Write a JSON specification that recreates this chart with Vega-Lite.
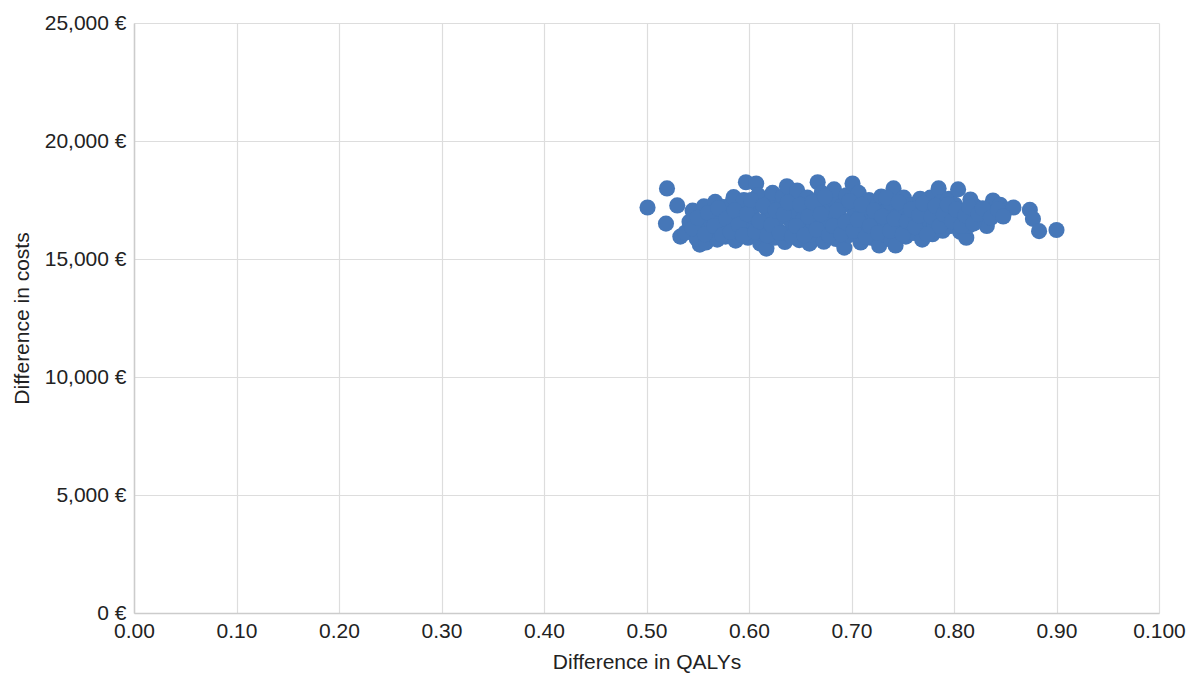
{
  "$schema": "https://vega.github.io/schema/vega-lite/v6.json",
  "width": 1025,
  "height": 590,
  "autosize": "none",
  "padding": {"left": 134, "top": 23, "right": 31, "bottom": 60},
  "background": "white",
  "config": {
    "view": {"stroke": null},
    "font": "Liberation Sans",
    "axis": {
      "labelFont": "Liberation Sans",
      "titleFont": "Liberation Sans",
      "labelColor": "#222222",
      "titleColor": "#222222",
      "labelFontSize": 21,
      "titleFontSize": 21,
      "titleFontWeight": "normal",
      "gridColor": "#dddddd",
      "gridWidth": 1.2,
      "domainColor": "#cccccc",
      "domainWidth": 1.5,
      "ticks": false
    }
  },
  "data": {
    "values": [
      {"q":0.501,"c":17180},{"q":0.520,"c":17990},{"q":0.519,"c":16500},{"q":0.530,"c":17270},{"q":0.533,"c":15950},{"q":0.552,"c":15610},
      {"q":0.538,"c":16120},{"q":0.542,"c":16580},{"q":0.545,"c":17050},{"q":0.549,"c":15870},{"q":0.551,"c":16350},{"q":0.553,"c":16820},{"q":0.556,"c":17230},{"q":0.558,"c":15700},
      {"q":0.561,"c":16100},{"q":0.563,"c":16560},{"q":0.565,"c":17020},{"q":0.567,"c":17420},{"q":0.569,"c":15820},{"q":0.571,"c":16300},{"q":0.573,"c":16780},{"q":0.575,"c":17200},
      {"q":0.577,"c":15950},{"q":0.579,"c":16450},{"q":0.581,"c":16900},{"q":0.583,"c":17350},{"q":0.585,"c":17620},{"q":0.587,"c":15780},{"q":0.589,"c":16200},{"q":0.591,"c":16680},
      {"q":0.593,"c":17100},{"q":0.595,"c":17500},{"q":0.597,"c":18250},{"q":0.599,"c":15900},{"q":0.601,"c":16350},{"q":0.603,"c":16820},{"q":0.605,"c":17280},{"q":0.607,"c":18200},{"q":0.609,"c":17700},
      {"q":0.611,"c":15650},{"q":0.613,"c":16080},{"q":0.615,"c":16550},{"q":0.617,"c":15440},{"q":0.619,"c":17000},{"q":0.621,"c":17450},{"q":0.623,"c":17800},{"q":0.625,"c":15900},{"q":0.627,"c":16300},{"q":0.629,"c":16750},
      {"q":0.631,"c":17200},{"q":0.633,"c":17650},{"q":0.635,"c":15720},{"q":0.637,"c":18080},{"q":0.639,"c":16150},{"q":0.641,"c":16600},{"q":0.643,"c":17050},{"q":0.645,"c":17500},{"q":0.647,"c":17900},
      {"q":0.649,"c":15800},{"q":0.651,"c":16250},{"q":0.653,"c":16700},{"q":0.655,"c":17150},{"q":0.657,"c":17600},{"q":0.659,"c":15650},{"q":0.661,"c":16050},{"q":0.663,"c":16500},{"q":0.665,"c":16950},{"q":0.667,"c":18250},
      {"q":0.669,"c":17400},{"q":0.671,"c":17800},{"q":0.673,"c":15730},{"q":0.675,"c":16200},{"q":0.677,"c":16650},{"q":0.679,"c":17100},{"q":0.681,"c":17550},{"q":0.683,"c":17950},{"q":0.685,"c":15850},
      {"q":0.687,"c":16300},{"q":0.689,"c":16750},{"q":0.691,"c":17250},{"q":0.693,"c":15480},{"q":0.695,"c":17700},{"q":0.697,"c":16000},{"q":0.699,"c":16450},{"q":0.701,"c":18200},{"q":0.703,"c":16900},{"q":0.705,"c":17350},
      {"q":0.707,"c":17800},{"q":0.709,"c":15700},{"q":0.711,"c":16150},{"q":0.713,"c":16600},{"q":0.715,"c":17050},{"q":0.717,"c":17500},{"q":0.719,"c":15900},{"q":0.721,"c":16350},{"q":0.723,"c":16800},{"q":0.725,"c":17250},
      {"q":0.727,"c":15570},{"q":0.729,"c":17650},{"q":0.731,"c":16050},{"q":0.733,"c":16500},{"q":0.735,"c":16950},{"q":0.737,"c":17400},{"q":0.739,"c":15800},{"q":0.741,"c":17990},{"q":0.743,"c":15570},{"q":0.745,"c":16250},
      {"q":0.747,"c":16700},{"q":0.749,"c":17150},{"q":0.751,"c":17600},{"q":0.753,"c":15950},{"q":0.755,"c":16400},{"q":0.757,"c":16850},{"q":0.759,"c":17300},{"q":0.761,"c":16100},{"q":0.763,"c":16600},{"q":0.765,"c":17050},
      {"q":0.767,"c":17550},{"q":0.769,"c":15820},{"q":0.771,"c":16300},{"q":0.773,"c":16750},{"q":0.775,"c":17200},{"q":0.777,"c":17600},{"q":0.779,"c":16050},{"q":0.781,"c":16500},{"q":0.783,"c":16950},{"q":0.785,"c":17990},
      {"q":0.787,"c":17400},{"q":0.789,"c":16200},{"q":0.791,"c":16650},{"q":0.793,"c":17100},{"q":0.795,"c":17550},{"q":0.797,"c":16400},{"q":0.799,"c":16850},{"q":0.801,"c":17300},{"q":0.804,"c":17950},{"q":0.806,"c":16150},
      {"q":0.808,"c":16600},{"q":0.810,"c":17050},{"q":0.812,"c":15900},{"q":0.814,"c":16400},{"q":0.816,"c":17520},{"q":0.818,"c":16850},{"q":0.820,"c":17250},{"q":0.823,"c":16650},{"q":0.826,"c":17000},{"q":0.829,"c":16750},
      {"q":0.832,"c":16400},{"q":0.834,"c":17150},{"q":0.838,"c":17480},{"q":0.841,"c":16900},{"q":0.845,"c":17300},{"q":0.850,"c":17050},{"q":0.858,"c":17180},{"q":0.874,"c":17080},{"q":0.877,"c":16700},{"q":0.883,"c":16180},{"q":0.900,"c":16230},
      {"q":0.545,"c":16300},{"q":0.550,"c":16750},{"q":0.557,"c":16050},{"q":0.560,"c":16950},{"q":0.566,"c":16400},{"q":0.570,"c":17150},{"q":0.574,"c":16000},{"q":0.578,"c":16700},{"q":0.582,"c":16150},{"q":0.586,"c":17050},
      {"q":0.590,"c":16450},{"q":0.594,"c":16000},{"q":0.598,"c":16900},{"q":0.602,"c":17500},{"q":0.606,"c":16150},{"q":0.610,"c":16600},{"q":0.614,"c":17250},{"q":0.618,"c":16000},{"q":0.622,"c":16450},{"q":0.626,"c":17050},
      {"q":0.630,"c":16100},{"q":0.634,"c":16900},{"q":0.638,"c":17400},{"q":0.642,"c":15950},{"q":0.646,"c":16400},{"q":0.650,"c":17300},{"q":0.654,"c":16000},{"q":0.658,"c":16800},{"q":0.662,"c":17400},{"q":0.666,"c":16250},
      {"q":0.670,"c":16900},{"q":0.674,"c":17650},{"q":0.678,"c":16000},{"q":0.682,"c":16400},{"q":0.686,"c":17050},{"q":0.690,"c":16050},{"q":0.694,"c":16550},{"q":0.698,"c":17450},{"q":0.702,"c":16200},{"q":0.706,"c":16650},
      {"q":0.710,"c":17300},{"q":0.714,"c":15950},{"q":0.718,"c":16400},{"q":0.722,"c":17050},{"q":0.726,"c":16100},{"q":0.730,"c":16800},{"q":0.734,"c":17600},{"q":0.738,"c":16200},{"q":0.742,"c":16700},{"q":0.746,"c":17400},
      {"q":0.750,"c":16050},{"q":0.754,"c":16600},{"q":0.758,"c":17100},{"q":0.762,"c":16350},{"q":0.766,"c":16850},{"q":0.770,"c":17350},{"q":0.774,"c":16050},{"q":0.778,"c":16800},{"q":0.782,"c":17250},{"q":0.786,"c":16400},
      {"q":0.790,"c":16900},{"q":0.794,"c":17300},{"q":0.798,"c":16600},{"q":0.802,"c":17100},{"q":0.807,"c":16400},{"q":0.811,"c":16850},{"q":0.815,"c":17200},{"q":0.819,"c":16500},{"q":0.824,"c":16900},{"q":0.828,"c":17150},
      {"q":0.836,"c":16750},{"q":0.843,"c":17100},{"q":0.848,"c":16800}
    ]
  },
  "mark": {"type": "circle", "size": 260, "opacity": 1, "color": "#4677B8"},
  "encoding": {
    "x": {
      "field": "q",
      "type": "quantitative",
      "scale": {"domain": [0, 1], "nice": false, "zero": true},
      "axis": {
        "title": "Difference in QALYs",
        "values": [0, 0.1, 0.2, 0.3, 0.4, 0.5, 0.6, 0.7, 0.8, 0.9, 1.0],
        "labelExpr": "datum.value >= 0.999 ? '0.100' : format(datum.value, '.2f')",
        "labelPadding": 7,
        "titlePadding": 10,
        "labelFlush": false
      }
    },
    "y": {
      "field": "c",
      "type": "quantitative",
      "scale": {"domain": [0, 25000], "nice": false},
      "axis": {
        "title": "Difference in costs",
        "values": [0, 5000, 10000, 15000, 20000, 25000],
        "labelExpr": "format(datum.value, ',') + ' €'",
        "labelPadding": 8,
        "titlePadding": 12,
        "labelFlush": false
      }
    }
  }
}
